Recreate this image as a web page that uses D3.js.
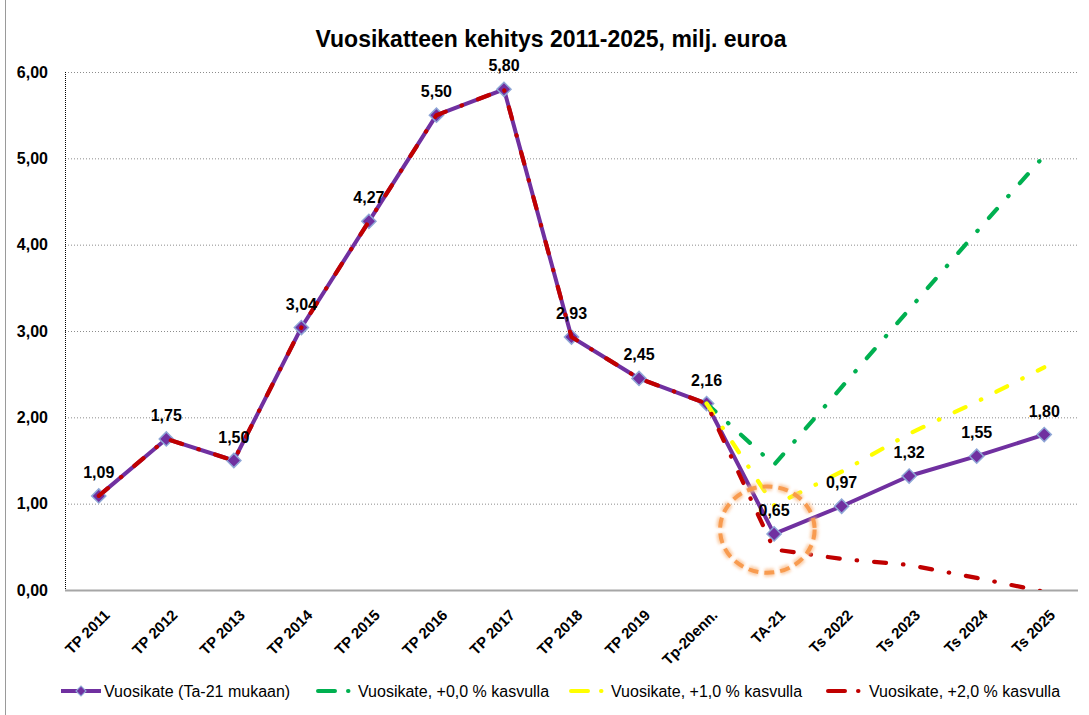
<!DOCTYPE html>
<html>
<head>
<meta charset="utf-8">
<script src="https://cdn.jsdelivr.net/npm/d3@7"></script>
<style>
  body { margin: 0; background: #fff; }
  text { font-family: "Liberation Sans", Arial, sans-serif; fill: #000; }
</style>
</head>
<body>
<svg id="chart" width="1089" height="715"></svg>
<script>
// ---------- data ----------
const categories = ["TP 2011","TP 2012","TP 2013","TP 2014","TP 2015","TP 2016","TP 2017","TP 2018","TP 2019","Tp-20enn.","TA-21","Ts 2022","Ts 2023","Ts 2024","Ts 2025"];
const vuosikate   = [1.09,1.75,1.50,3.04,4.27,5.50,5.80,2.93,2.45,2.16,0.65,0.97,1.32,1.55,1.80];
const kasvu00     = [null,null,null,null,null,null,null,null,null,2.16,1.45,2.35,3.25,4.15,5.03];
const kasvu10     = [null,null,null,null,null,null,null,null,null,2.16,0.98,1.37,1.81,2.18,2.58];
const kasvu20     = [1.09,1.75,1.50,3.04,4.27,5.50,5.80,2.93,2.45,2.16,0.47,0.36,0.29,0.14,-0.02];
const yTicks      = [0,1,2,3,4,5,6];
const yTickLabels = ["0,00","1,00","2,00","3,00","4,00","5,00","6,00"];
const seriesNames = ["Vuosikate (Ta-21 mukaan)","Vuosikate, +0,0 % kasvulla","Vuosikate, +1,0 % kasvulla","Vuosikate, +2,0 % kasvulla"];
const titleText   = "Vuosikatteen kehitys 2011-2025, milj. euroa";

// ---------- layout ----------
const W = 1089, H = 715;
const plot = { left: 65, right: 1078, top: 72, bottom: 590 };
const svg = d3.select("#chart");

const x = d3.scalePoint().domain(categories).range([plot.left, plot.right]).padding(0.5);
const y = d3.scaleLinear().domain([0, 6]).range([plot.bottom, plot.top]);
const fmt = v => d3.format(".2f")(v).replace(".", ",");

svg.append("rect").attr("width", W).attr("height", H).attr("fill", "#fff");
// outer chart border (left edge visible)
svg.append("line").attr("x1", 5.5).attr("x2", 5.5).attr("y1", 0).attr("y2", H)
  .attr("stroke", "#9a9a9a").attr("stroke-width", 1);

// clip
const defs = svg.append("defs");
defs.append("clipPath").attr("id", "plotclip")
  .append("rect").attr("x", plot.left).attr("y", plot.top - 10)
  .attr("width", plot.right - plot.left).attr("height", plot.bottom - plot.top + 10);

// title
svg.append("text").attr("x", 551).attr("y", 47).attr("text-anchor", "middle")
  .attr("font-size", 23).attr("font-weight", "bold").text(titleText);

// gridlines
svg.append("g").selectAll("line").data(yTicks.filter(t => t > 0)).join("line")
  .attr("x1", plot.left).attr("x2", plot.right)
  .attr("y1", d => y(d) + 0.5).attr("y2", d => y(d) + 0.5)
  .attr("stroke", "#8c8c8c").attr("stroke-width", 1).attr("stroke-dasharray", "1,2");

// y axis (dotted)
svg.append("line").attr("x1", plot.left + 0.5).attr("x2", plot.left + 0.5)
  .attr("y1", plot.top).attr("y2", plot.bottom)
  .attr("stroke", "#000").attr("stroke-width", 1).attr("stroke-dasharray", "1,1");

// y tick labels
svg.append("g").selectAll("text").data(yTicks).join("text")
  .attr("x", 48).attr("y", d => y(d)).attr("dy", "0.36em")
  .attr("text-anchor", "end").attr("font-size", 16).attr("font-weight", "bold")
  .text((d, i) => yTickLabels[i]);

// x axis line
svg.append("line").attr("x1", plot.left).attr("x2", plot.right)
  .attr("y1", plot.bottom + 0.5).attr("y2", plot.bottom + 0.5)
  .attr("stroke", "#a6a6a6").attr("stroke-width", 2);

// x tick labels
svg.append("g").selectAll("text").data(categories).join("text")
  .attr("transform", d => `translate(${x(d) + 12},${plot.bottom + 26}) rotate(-45)`)
  .attr("text-anchor", "end").attr("font-size", 15).attr("font-weight", "bold")
  .text(d => d);

// ---------- series ----------
const lineGen = d3.line()
  .defined(d => d.v !== null)
  .x(d => x(d.c)).y(d => y(d.v));
const toPts = arr => categories.map((c, i) => ({ c, v: arr[i] }));

const gLines = svg.append("g").attr("clip-path", "url(#plotclip)");
const dashPattern = "12,17,0.5,17";

// main series
gLines.append("path").datum(toPts(vuosikate)).attr("d", lineGen)
  .attr("fill", "none").attr("stroke", "#7030A0").attr("stroke-width", 4)
  .attr("stroke-linejoin", "round");

gLines.append("g").selectAll("path").data(toPts(vuosikate)).join("path")
  .attr("d", d3.symbol().type(d3.symbolSquare).size(100))
  .attr("transform", d => `translate(${x(d.c)},${y(d.v)}) rotate(45)`)
  .attr("fill", "#7030A0").attr("stroke", "#8EA6D6").attr("stroke-width", 1.5);

const dashed = [
  { data: kasvu00, color: "#00B050" },
  { data: kasvu10, color: "#FFFF00" },
  { data: kasvu20, color: "#C00000" }
];
dashed.forEach(s => {
  gLines.append("path").datum(toPts(s.data)).attr("d", lineGen)
    .attr("fill", "none").attr("stroke", s.color).attr("stroke-width", 4.2)
    .attr("stroke-linecap", "round").attr("stroke-linejoin", "round")
    .attr("stroke-dasharray", dashPattern);
});

// annotation circle around TA-21
const step = x.step();
const cx = x("TA-21") - 0.1 * step, cy = y(0.7);
const rx = 0.7 * step, ry = y(0) - y(0.5);
defs.append("filter").attr("id", "glow").attr("x", "-20%").attr("y", "-20%").attr("width", "140%").attr("height", "140%")
  .append("feGaussianBlur").attr("stdDeviation", 1.8);
svg.append("ellipse").attr("cx", cx).attr("cy", cy).attr("rx", rx).attr("ry", ry)
  .attr("fill", "none").attr("stroke", "#FAC090").attr("stroke-width", 8)
  .attr("stroke-dasharray", "10,6").attr("filter", "url(#glow)").attr("opacity", 0.8);
svg.append("ellipse").attr("cx", cx).attr("cy", cy).attr("rx", rx).attr("ry", ry)
  .attr("fill", "none").attr("stroke", "#F79646").attr("stroke-width", 4)
  .attr("stroke-dasharray", "10,6").attr("opacity", 0.9);

// data labels
svg.append("g").selectAll("text").data(toPts(vuosikate)).join("text")
  .attr("x", d => x(d.c)).attr("y", d => y(d.v) - 18)
  .attr("text-anchor", "middle").attr("font-size", 16).attr("font-weight", "bold")
  .text(d => fmt(d.v));

// ---------- legend ----------
const legY = 691;
const leg = svg.append("g");
leg.append("line").attr("x1", 61).attr("x2", 101).attr("y1", legY).attr("y2", legY)
  .attr("stroke", "#7030A0").attr("stroke-width", 4);
leg.append("path").attr("d", d3.symbol().type(d3.symbolSquare).size(50))
  .attr("transform", `translate(81,${legY}) rotate(45)`)
  .attr("fill", "#7030A0").attr("stroke", "#8EA6D6").attr("stroke-width", 1.2);
leg.append("text").attr("x", 104).attr("y", legY).attr("dy", "0.36em")
  .attr("font-size", 16).text(seriesNames[0]);

const legItems = [
  { x0: 318, tx: 358, color: "#00B050", name: seriesNames[1] },
  { x0: 571, tx: 611, color: "#FFFF00", name: seriesNames[2] },
  { x0: 828, tx: 869, color: "#C00000", name: seriesNames[3] }
];
legItems.forEach(it => {
  leg.append("line").attr("x1", it.x0).attr("x2", it.x0 + 31).attr("y1", legY).attr("y2", legY)
    .attr("stroke", it.color).attr("stroke-width", 4).attr("stroke-linecap", "round")
    .attr("stroke-dasharray", "17,13,0.5,40");
  leg.append("text").attr("x", it.tx).attr("y", legY).attr("dy", "0.36em")
    .attr("font-size", 16).text(it.name);
});
</script>
</body>
</html>
